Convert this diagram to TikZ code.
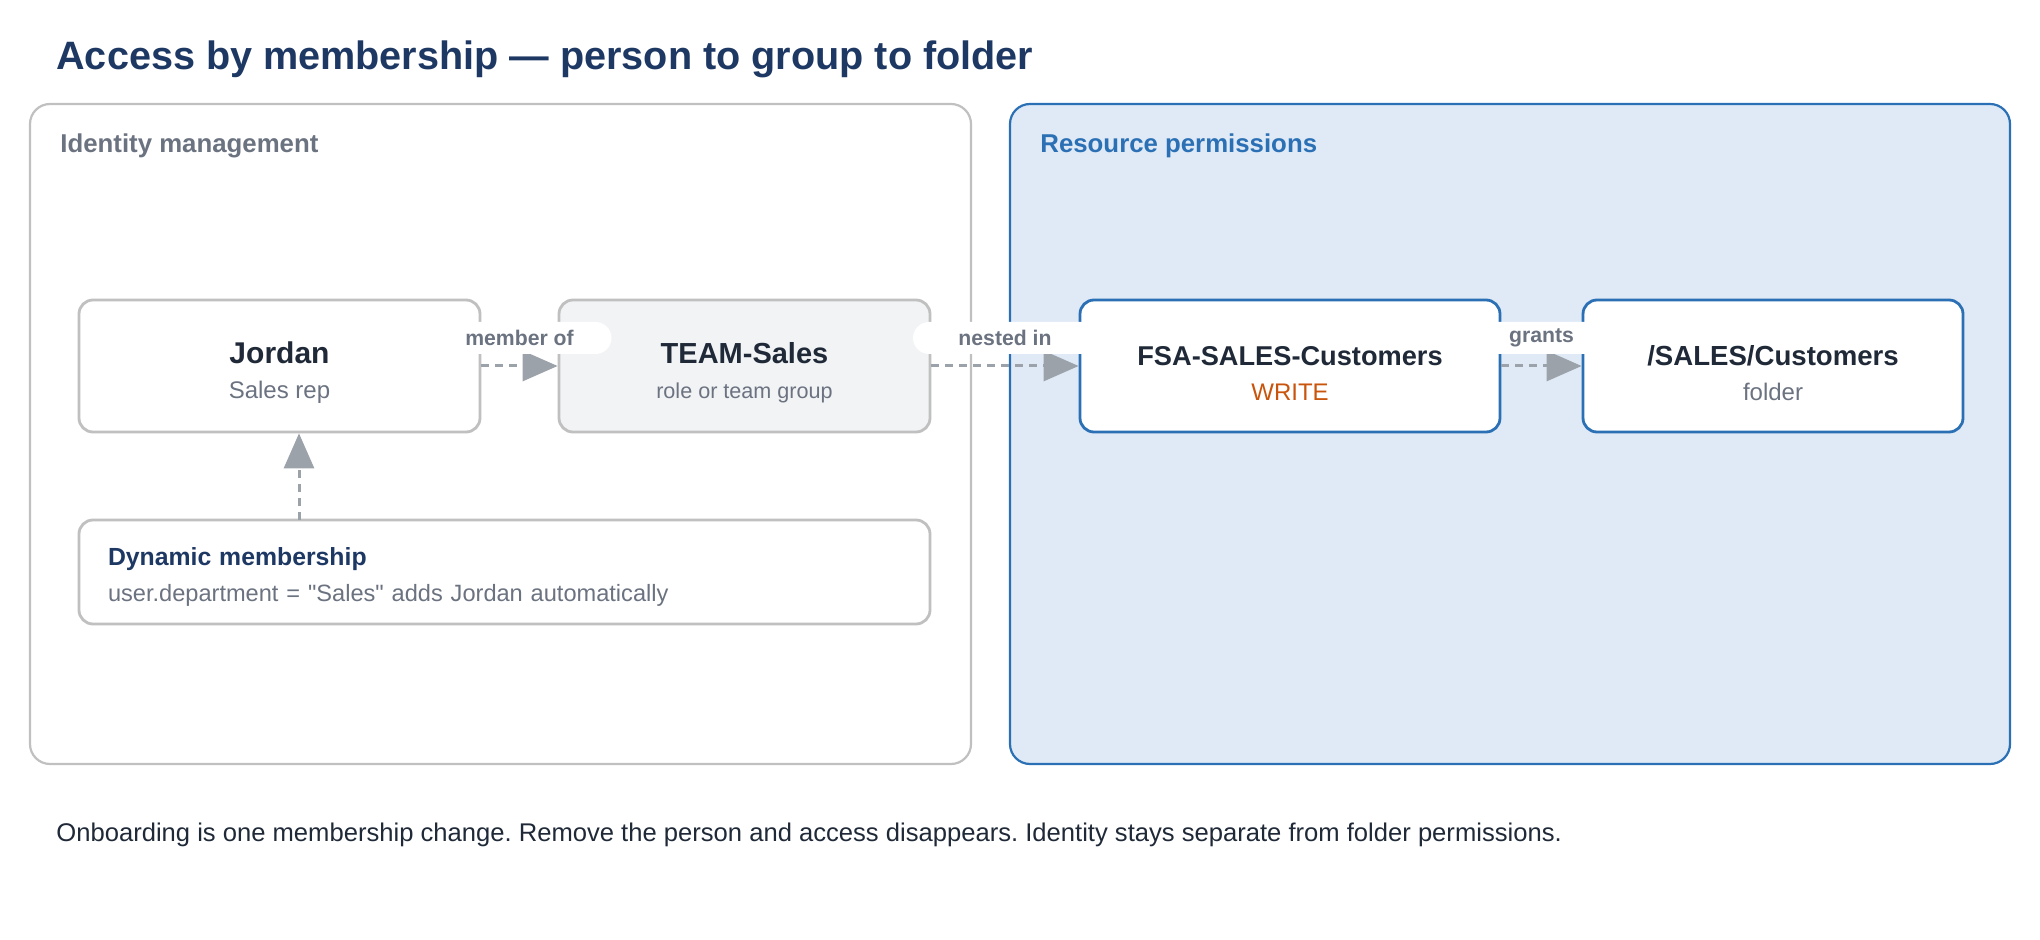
\documentclass[tikz,border=0pt]{standalone}
\usepackage{fontspec}
\setmainfont{Liberation Sans}[Ligatures=TeXOff]
\frenchspacing
\definecolor{titlenavy}{RGB}{30,56,100}
\definecolor{textdark}{RGB}{31,41,55}
\definecolor{textgray}{RGB}{107,114,128}
\definecolor{boxgray}{RGB}{192,192,192}
\definecolor{teamfill}{RGB}{242,243,245}
\definecolor{permblue}{RGB}{43,112,180}
\definecolor{permfill}{RGB}{223,234,246}
\definecolor{writeorange}{RGB}{201,84,12}
\definecolor{linkgray}{RGB}{156,162,170}
\usetikzlibrary{arrows.meta,positioning}

\newcommand{\entname}[2][14.5]{\rule{0pt}{17pt}{\fontsize{#1}{17}\selectfont\bfseries\color{textdark}#2}}

\begin{document}
\begin{tikzpicture}[x=0.5pt, y=-0.5pt,
    panel/.style={draw=boxgray, fill=white, rounded corners=10pt, line width=1.1pt,
      minimum width=#1, minimum height=330pt, inner sep=0pt},
    paneltitle/.style={anchor=west, inner sep=0pt, font=\fontsize{12.9}{15}\selectfont\bfseries},
    entity/.style={draw=boxgray, fill=white, rounded corners=7pt, line width=1.4pt,
      minimum width=#1, minimum height=66pt, align=center, inner sep=0pt,
      font=\fontsize{12}{17.5}\selectfont, text=textgray},
    link/.style={draw=linkgray, line width=1.5pt, dash pattern=on 4pt off 3pt,
      -{Triangle[length=17.5pt,width=15pt]}},
    pill/.style={fill=white, rounded corners=8pt, minimum width=92pt, minimum height=16pt,
      inner sep=0pt, font=\fontsize{10.6}{12}\selectfont\bfseries, text=textgray}]
  \useasboundingbox (0,0) rectangle (2040,940);

  \node[anchor=west, inner sep=0pt, text=titlenavy, font=\fontsize{19.8}{22}\selectfont\bfseries]
    (title) at (56,59) {Access by membership — person to group to folder};

  % the two zones
  \node[panel=470.5pt] (idpanel) at (500.5,434) {};
  \node[panel=500pt, draw=permblue, fill=permfill] (permpanel) at (1510,434) {};
  \node[paneltitle, text=textgray] (idtitle) at (60,146) {Identity management};
  \node[paneltitle, text=permblue] (permtitle) at (1040,146) {Resource permissions};

  % chain of membership
  \node[entity=200.5pt] (jordan) at (279.5,366) {\entname[15]{Jordan}\\Sales rep};
  \node[entity=185.5pt, fill=teamfill] (team) at (744.5,366)
    {\entname{TEAM-Sales}\\{\fontsize{10.8}{17.5}\selectfont role or team group}};
  \node[entity=210pt, draw=permblue] (fsa) at (1290,366)
    {\entname[13.6]{FSA-SALES-Customers}\\{\color{writeorange}WRITE}};
  \node[entity=190pt, draw=permblue] (folder) at (1773,366)
    {\entname[13.8]{/SALES/Customers}\\folder};

  \node[entity=425.5pt, minimum height=52pt, align=left, text width=396.5pt, inner xsep=14.5pt,
    font=\fontsize{11.8}{18}\selectfont] (dynamic) at (504.5,572)
    {\rule{0pt}{14pt}{\fontsize{12.4}{18}\selectfont\bfseries\color{titlenavy}Dynamic membership}\\
     user.department = "Sales" adds Jordan automatically};

  \coordinate (dynhook) at (299,520);
  \draw[link] (dynhook) -- (dynhook |- jordan.south);

  \draw[link] (jordan) -- (team) node[pill, midway, yshift=14pt] (memberlbl) {member of};
  \draw[link] (team) -- (fsa) node[pill, midway, yshift=14pt] (nestedlbl) {nested in};
  \draw[link] (fsa) -- (folder) node[pill, midway, yshift=14pt] (grantslbl) {grants};

  \node[anchor=west, inner sep=0pt, text=textdark, font=\fontsize{12.8}{15}\selectfont]
    (footnote) at (56,835) {Onboarding is one membership change. Remove the person and access disappears. Identity stays separate from folder permissions.};
\end{tikzpicture}
\end{document}
